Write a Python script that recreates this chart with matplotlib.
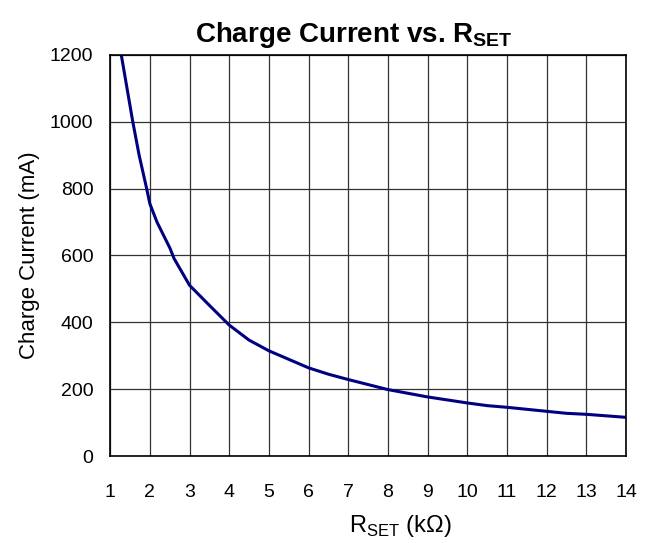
import matplotlib
matplotlib.use('Agg')
import matplotlib.pyplot as plt

plt.rcParams['font.family'] = ['Liberation Sans', 'DejaVu Sans']
plt.rcParams['mathtext.fontset'] = 'custom'
plt.rcParams['mathtext.rm'] = 'Liberation Sans'
plt.rcParams['mathtext.bf'] = 'Liberation Sans:bold'

# R_SET (kOhm) vs charge current (mA)
rset = [1.28, 1.57, 1.73, 1.92, 2.0, 2.18, 2.51, 2.61, 3.0, 3.5, 4.0, 4.5,
        5.0, 6.0, 6.5, 7.0, 8.0, 9.0, 10.0, 10.5, 11.0, 12.0, 12.5, 13.0, 14.0]
current = [1200, 1000, 900, 800, 755, 700, 621, 591, 511, 451, 392, 347,
           315, 264, 245, 229, 199, 177, 159, 151, 146, 134, 128, 125, 116]

xticks = list(range(1, 15))
yticks = [0, 200, 400, 600, 800, 1000, 1200]

fig = plt.figure(figsize=(6.48, 5.43), dpi=100)
ax = fig.add_axes([0.170, 0.160, 0.796, 0.739])

ax.plot(rset, current, color='#000080', lw=2.2)

ax.set_xlim(1, 14)
ax.set_ylim(0, 1200)
ax.set_xticks(xticks)
ax.set_yticks(yticks)
ax.grid(True, color='#333333', lw=0.9)
ax.tick_params(length=0, labelsize=14)
ax.tick_params(axis='x', pad=20)
ax.tick_params(axis='y', pad=12)
for s in ax.spines.values():
    s.set_color('black')
    s.set_linewidth(1.2)

ax.set_title(r'Charge Current vs. R$_\mathbf{SET}$', fontsize=20, fontweight='bold', pad=9, x=0.472)
ax.set_xlabel(r'R$_\mathrm{SET}$ (k$\Omega$)', fontsize=17, labelpad=9, x=0.562)
ax.set_ylabel('Charge Current (mA)', fontsize=16, labelpad=7)

fig.savefig('out.png', dpi=100)
